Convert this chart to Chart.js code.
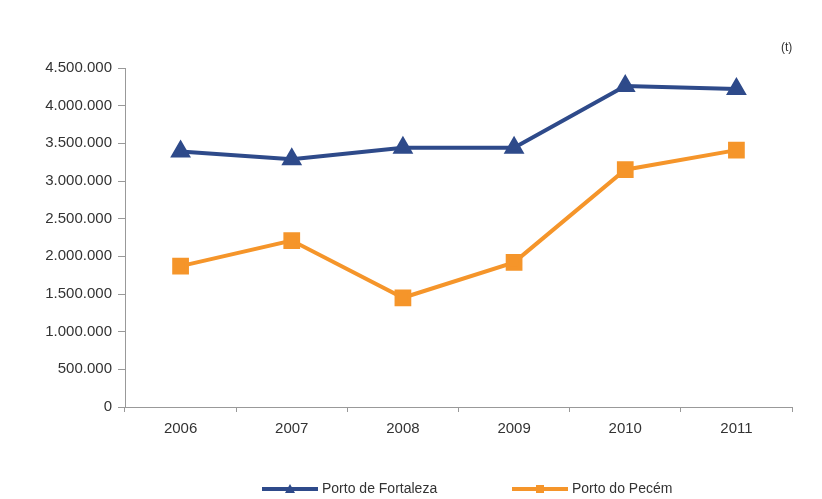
<!DOCTYPE html>
<html>
<head>
<meta charset="utf-8">
<script src="https://cdn.jsdelivr.net/npm/chart.js@4"></script>
<style>
    html, body { margin: 0; padding: 0; background: #fff; }
    #wrap { position: relative; width: 822px; height: 499px; }
    #unit { position: absolute; left: 781px; top: 40px; font: 12px "Liberation Sans", Arial, sans-serif; color: #333; }
</style>
</head>
<body>
<div id="wrap">
    <canvas id="chart" width="822" height="499"></canvas>
    <div id="unit">(t)</div>
</div>
<script>
// Chart data
const years = ['2006', '2007', '2008', '2009', '2010', '2011'];
const fortaleza = [3390000, 3290000, 3440000, 3440000, 4260000, 4220000];
const pecem = [1870000, 2210000, 1450000, 1920000, 3150000, 3410000];
const yTicks = [0, 500000, 1000000, 1500000, 2000000, 2500000, 3000000, 3500000, 4000000, 4500000];

const navy = '#2e4a8a';
const orange = '#f5952a';
const fontFamily = '"Liberation Sans", Arial, sans-serif';

const fmt = v => v.toLocaleString('de-DE');

// Legend drawn below the axis: line sample with marker, then label
const lineLegend = {
    id: 'lineLegend',
    afterDraw(chart) {
        const ctx = chart.ctx;
        const y = 489;
        const starts = [262, 512];
        ctx.save();
        ctx.font = '14px ' + fontFamily;
        ctx.textBaseline = 'middle';
        chart.data.datasets.forEach((ds, i) => {
            const x = starts[i];
            ctx.strokeStyle = ds.borderColor;
            ctx.lineWidth = 4;
            ctx.beginPath();
            ctx.moveTo(x, y);
            ctx.lineTo(x + 56, y);
            ctx.stroke();
            ctx.fillStyle = ds.borderColor;
            if (ds.pointStyle === 'triangle') {
                ctx.beginPath();
                ctx.moveTo(x + 28, y - 5);
                ctx.lineTo(x + 33, y + 4);
                ctx.lineTo(x + 23, y + 4);
                ctx.closePath();
                ctx.fill();
            } else {
                ctx.fillRect(x + 24, y - 4, 8, 8);
            }
            ctx.fillStyle = '#333';
            ctx.fillText(ds.label, x + 60, y);
        });
        ctx.restore();
    }
};

new Chart(document.getElementById('chart').getContext('2d'), {
    type: 'line',
    data: {
        labels: years,
        datasets: [{
            label: 'Porto de Fortaleza',
            data: fortaleza,
            borderColor: navy,
            backgroundColor: navy,
            borderWidth: 4,
            pointStyle: 'triangle',
            pointRadius: 8,
            pointHoverRadius: 8,
            tension: 0
        }, {
            label: 'Porto do Pecém',
            data: pecem,
            borderColor: orange,
            backgroundColor: orange,
            borderWidth: 4,
            pointStyle: 'rect',
            pointRadius: 9,
            pointHoverRadius: 9,
            tension: 0
        }]
    },
    plugins: [lineLegend],
    options: {
        responsive: false,
        animation: false,
        layout: { padding: { top: 68, right: 30, left: 0, bottom: 40 } },
        plugins: {
            tooltip: { enabled: false },
            legend: { display: false }
        },
        scales: {
            x: {
                offset: true,
                grid: {
                    offset: true,
                    drawOnChartArea: false,
                    drawTicks: true,
                    tickLength: 5,
                    color: '#999'
                },
                border: { color: '#999' },
                ticks: {
                    color: '#333',
                    padding: 8,
                    font: { family: fontFamily, size: 15 }
                },
                afterFit: scale => { scale.height = 52; }
            },
            y: {
                min: 0,
                max: 4500000,
                afterBuildTicks: scale => { scale.ticks = yTicks.map(v => ({ value: v })); },
                grid: {
                    drawOnChartArea: false,
                    drawTicks: true,
                    tickLength: 7,
                    color: '#999'
                },
                border: { color: '#999' },
                ticks: {
                    color: '#333',
                    padding: 6,
                    callback: v => fmt(v),
                    font: { family: fontFamily, size: 15 }
                },
                afterFit: scale => { scale.width = 125; }
            }
        }
    }
});
</script>
</body>
</html>
